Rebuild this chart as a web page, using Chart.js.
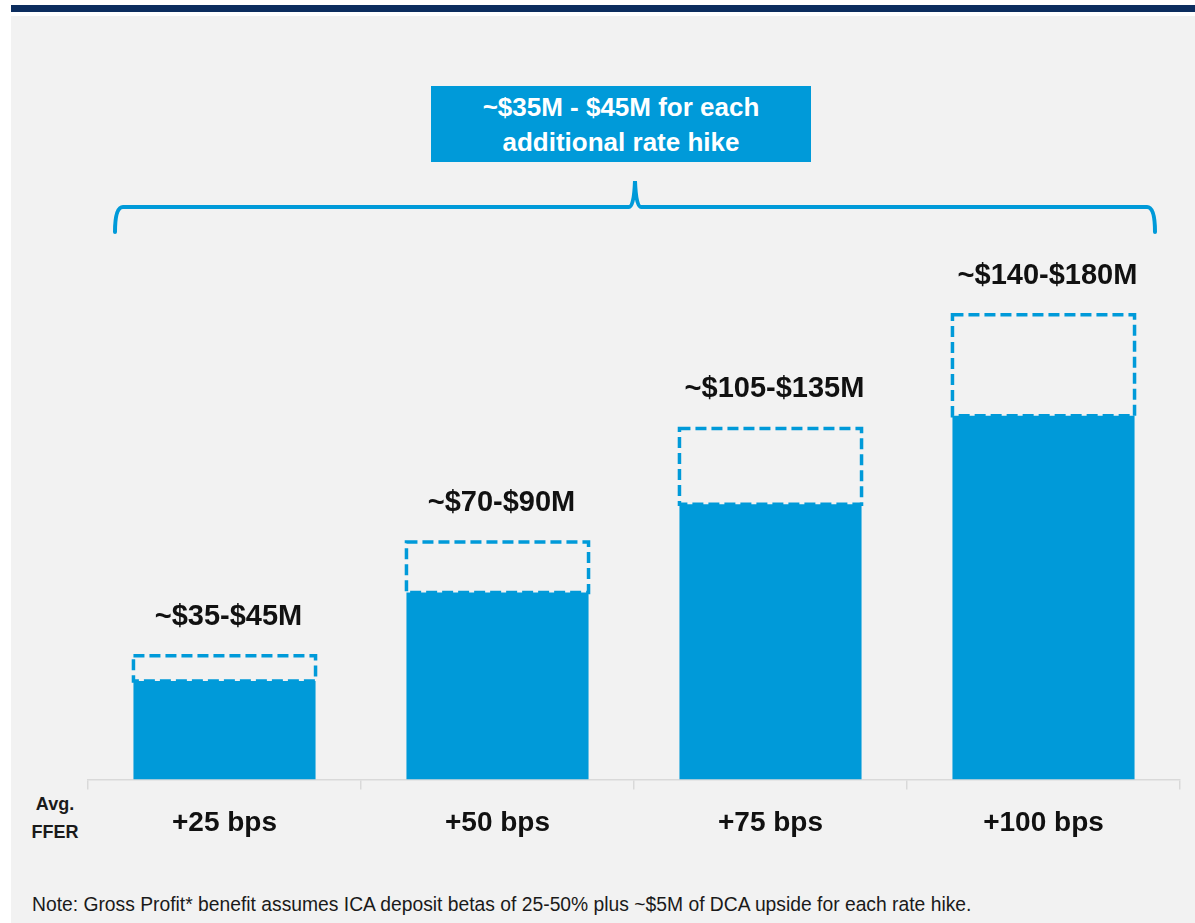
<!DOCTYPE html>
<html>
<head>
<meta charset="utf-8">
<script src="https://cdn.jsdelivr.net/npm/chart.js@4.4.1/dist/chart.umd.min.js"></script>
<style>
  body { margin: 0; width: 1195px; height: 923px; overflow: hidden; position: relative; background: #fff; font-family: "Liberation Sans", Arial, sans-serif; }
  .topbar { position: absolute; left: 11px; right: 0; top: 5px; height: 7px; background: #0c2d5e; }
  .panel { position: absolute; left: 11px; right: 0; top: 16px; bottom: 0; background: #f2f2f2; }
  .callout { position: absolute; left: 431px; top: 86px; width: 380px; height: 76px; background: #009ad9; color: #fff;
    font-weight: bold; font-size: 26px; line-height: 35px; text-align: center; padding-top: 4px; box-sizing: border-box; }
  .note { position: absolute; left: 32px; top: 894px; font-size: 19.3px; color: #1a1a1a; white-space: nowrap; }
  .axisname { position: absolute; left: 30px; top: 790px; width: 50px; text-align: center; font-weight: bold; font-size: 18px; line-height: 28px; color: #1a1a1a; }
  canvas { position: absolute; left: 0; top: 0; }
</style>
</head>
<body>
<div class="topbar"></div>
<div class="panel"></div>
<div class="callout">~$35M - $45M for each<br>additional rate hike</div>
<div class="axisname">Avg.<br>FFER</div>
<div class="note">Note: Gross Profit* benefit assumes ICA deposit betas of 25-50% plus ~$5M of DCA upside for each rate hike.</div>
<canvas id="chart" width="1195" height="923"></canvas>
<script>
const categories = ['+25 bps', '+50 bps', '+75 bps', '+100 bps'];
const lowValues = [35, 70, 105, 140];
const highValues = [45, 90, 135, 180];
const rangeLabels = ['~$35-$45M', '~$70-$90M', '~$105-$135M', '~$140-$180M'];
const AXIS_MIN = -4;
const AXIS_MAX = 250;

const BLUE = '#009ad9';

// dashed boxes, value labels and the brace over all bars
const extras = {
  id: 'extras',
  afterDatasetsDraw(chart) {
    const ctx = chart.ctx;
    const meta = chart.getDatasetMeta(1);
    ctx.save();
    ctx.strokeStyle = BLUE;
    ctx.lineWidth = 3.5;
    ctx.setLineDash([11, 5]);
    meta.data.forEach(el => {
      const p = el.getProps(['x', 'y', 'base', 'width'], true);
      ctx.strokeRect(p.x - p.width / 2, p.y, p.width, p.base - p.y);
    });
    ctx.setLineDash([]);
    ctx.fillStyle = '#111';
    ctx.font = 'bold 29px "Liberation Sans", Arial, sans-serif';
    ctx.textAlign = 'center';
    ctx.textBaseline = 'middle';
    meta.data.forEach((el, i) => {
      const p = el.getProps(['x', 'y'], true);
      ctx.fillText(rangeLabels[i], p.x + 4, p.y - 39);
    });

    // brace
    const a = chart.chartArea;
    const l = a.left + 27, r = a.right - 25, m = (l + r) / 2;
    const yh = 207, ye = 232, yp = 181;
    ctx.strokeStyle = BLUE;
    ctx.lineWidth = 4;
    ctx.lineCap = 'round';
    ctx.beginPath();
    ctx.moveTo(l, ye);
    ctx.quadraticCurveTo(l, yh, l + 8, yh);
    ctx.lineTo(m - 6, yh);
    ctx.quadraticCurveTo(m - 1, yh, m, yp);
    ctx.quadraticCurveTo(m + 1, yh, m + 6, yh);
    ctx.lineTo(r - 8, yh);
    ctx.quadraticCurveTo(r, yh, r, ye);
    ctx.stroke();
    ctx.restore();
  }
};

new Chart(document.getElementById('chart'), {
  type: 'bar',
  data: {
    labels: categories,
    datasets: [
      {
        data: lowValues.map(v => [AXIS_MIN, v]),
        backgroundColor: BLUE,
        borderWidth: 0,
        grouped: false,
        barPercentage: 0.667,
        categoryPercentage: 1
      },
      {
        data: lowValues.map((v, i) => [v, highValues[i]]),
        backgroundColor: 'rgba(0,0,0,0)',
        borderWidth: 0,
        grouped: false,
        barPercentage: 0.667,
        categoryPercentage: 1
      }
    ]
  },
  options: {
    responsive: false,
    animation: false,
    layout: { padding: { left: 88, right: 15, top: 138, bottom: 66 } },
    plugins: { legend: { display: false }, tooltip: { enabled: false } },
    scales: {
      y: { display: false, min: AXIS_MIN, max: AXIS_MAX },
      x: {
        grid: { offset: true, drawOnChartArea: false, drawTicks: true, tickLength: 10, color: '#d9d9d9', lineWidth: 1.5 },
        border: { display: true, color: '#d9d9d9', width: 1.5 },
        ticks: { color: '#111', padding: 17, font: { family: '"Liberation Sans", Arial, sans-serif', size: 28, weight: 'bold' } }
      }
    }
  },
  plugins: [extras]
});
</script>
</body>
</html>
